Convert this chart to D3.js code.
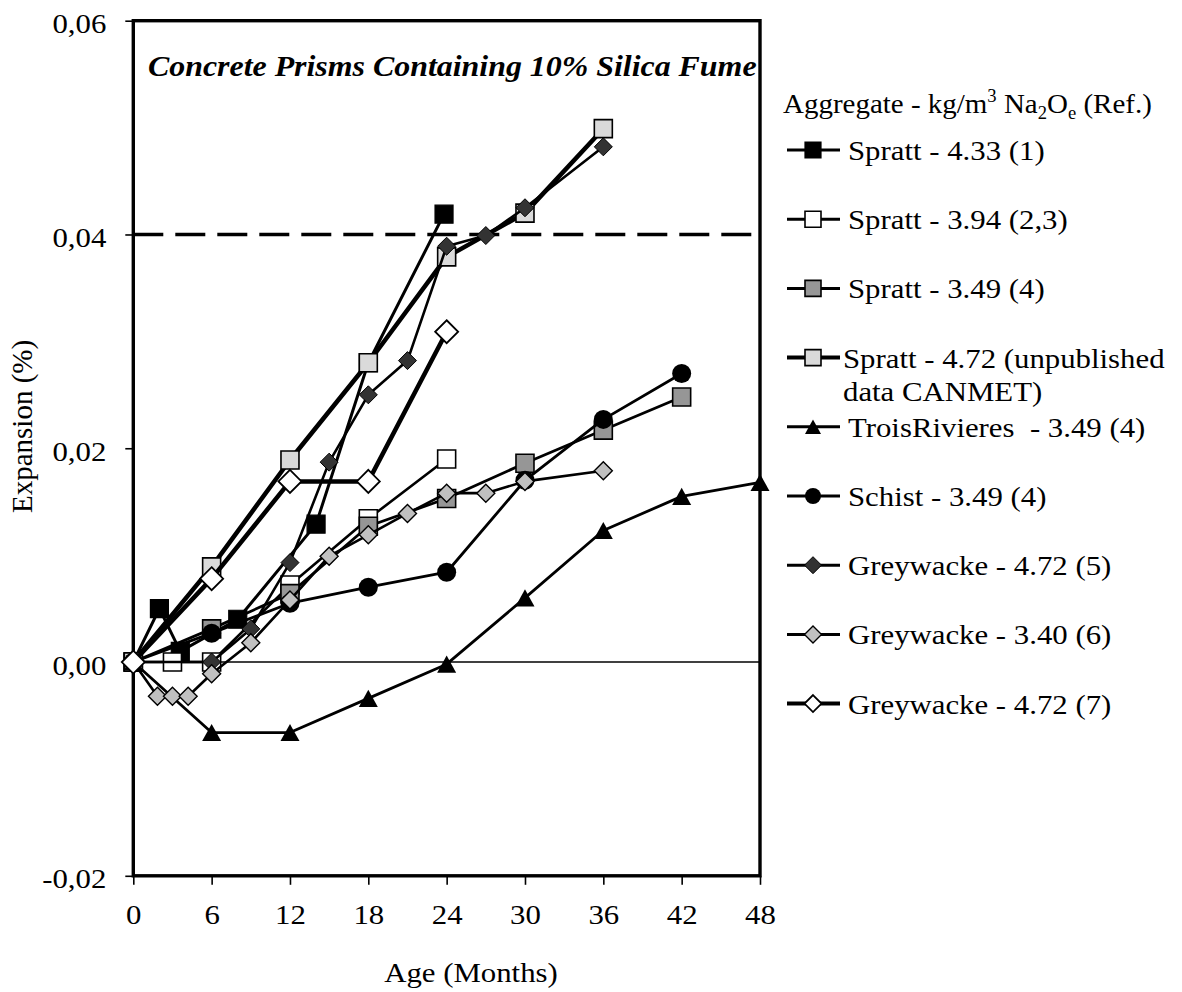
<!DOCTYPE html>
<html>
<head>
<meta charset="utf-8">
<script src="https://cdn.jsdelivr.net/npm/d3@7"></script>
<style>
  html, body { margin: 0; padding: 0; background: #fff; }
  svg { display: block; font-family: "Liberation Serif", "Times New Roman", serif; }
  text { white-space: pre; }
</style>
</head>
<body>
<svg id="chart" width="1182" height="992"></svg>
<script>
// ---------- data ----------
const xTicks = [0, 6, 12, 18, 24, 30, 36, 42, 48];
const xTickLabels = ["0", "6", "12", "18", "24", "30", "36", "42", "48"];
const yTicks = [-0.02, 0, 0.02, 0.04, 0.06];
const yTickLabels = ["-0,02", "0,00", "0,02", "0,04", "0,06"];
const limitValue = 0.04;

const seriesNames = [
  "Spratt - 4.33 (1)",
  "Spratt - 3.94 (2,3)",
  "Spratt - 3.49 (4)",
  "Spratt - 4.72 (unpublished|data CANMET)",
  "TroisRivieres  - 3.49 (4)",
  "Schist - 3.49 (4)",
  "Greywacke - 4.72 (5)",
  "Greywacke - 3.40 (6)",
  "Greywacke - 4.72 (7)"
];

const spratt433Months = [0, 2, 3.6, 8, 14, 18, 23.8];
const spratt433Values = [0, 0.005, 0.001, 0.004, 0.0129, 0.028, 0.0419];

const spratt394Months = [0, 3, 6, 12, 18, 24];
const spratt394Values = [0, 0, 0, 0.0072, 0.0134, 0.019];

const spratt349Months = [0, 6, 12, 18, 24, 30, 36, 42];
const spratt349Values = [0, 0.0031, 0.0064, 0.0127, 0.0153, 0.0186, 0.0217, 0.0248];

const spratt472Months = [0, 6, 12, 18, 24, 30, 36];
const spratt472Values = [0, 0.0089, 0.0189, 0.028, 0.0379, 0.042, 0.0499];

const troisMonths = [0, 6, 12, 18, 24, 30, 36, 42, 48];
const troisValues = [0, -0.0066, -0.0066, -0.0034, -0.0002, 0.006, 0.0123, 0.0155, 0.0168];

const schistMonths = [0, 6, 12, 18, 24, 30, 36, 42];
const schistValues = [0, 0.0027, 0.0055, 0.007, 0.0084, 0.017, 0.0227, 0.027];

const grey5Months = [0, 6, 9, 12, 15, 18, 21, 24, 27, 30, 36];
const grey5Values = [0, 0, 0.0031, 0.0093, 0.0187, 0.025, 0.0282, 0.0389, 0.0399, 0.0425, 0.0482];

const grey6Months = [0, 1.85, 3, 4.2, 6, 9, 12, 15, 18, 21, 24, 27, 30, 36];
const grey6Values = [0, -0.0032, -0.0032, -0.0032, -0.0011, 0.0018, 0.0058, 0.0099, 0.0119, 0.0139, 0.0158, 0.0158, 0.0169, 0.0179];

const grey7Months = [0, 6, 12, 18, 24];
const grey7Values = [0, 0.0078, 0.0169, 0.0169, 0.0309];

// ---------- styles ----------
const styles = [
  { shape: "square",   fill: "#000000", lw: 3,   size: 18, sw: 1.2 },
  { shape: "square",   fill: "#ffffff", lw: 2.6, size: 18, sw: 1.6 },
  { shape: "square",   fill: "#969696", lw: 2.8, size: 18, sw: 1.6 },
  { shape: "square",   fill: "#dadada", lw: 4.5, size: 18, sw: 1.6 },
  { shape: "triangle", fill: "#000000", lw: 2.8, size: 19, sw: 0 },
  { shape: "circle",   fill: "#000000", lw: 2.8, size: 19, sw: 0 },
  { shape: "diamond",  fill: "#333333", lw: 2.6, size: 18, sw: 1 },
  { shape: "diamond",  fill: "#c0c0c0", lw: 2.6, size: 18, sw: 1.4 },
  { shape: "diamond",  fill: "#ffffff", lw: 4.5, size: 23, sw: 1.8 }
];

const seriesMonths = [spratt433Months, spratt394Months, spratt349Months, spratt472Months,
  troisMonths, schistMonths, grey5Months, grey6Months, grey7Months];
const seriesValues = [spratt433Values, spratt394Values, spratt349Values, spratt472Values,
  troisValues, schistValues, grey5Values, grey6Values, grey7Values];

const series = seriesNames.map((name, i) => ({
  name,
  style: styles[i],
  points: seriesMonths[i].map((m, j) => ({ m, v: seriesValues[i][j] }))
}));

// ---------- layout ----------
const SX = 1.1; // horizontal glyph stretch of the original
const plotLeft = 133.3, plotRight = 760, plotTop = 20.7, plotBottom = 875.8;

const x = d3.scaleLinear().domain([0, 48]).range([plotLeft, plotRight]);
const y = d3.scaleLinear().domain([-0.02, 0.06]).range([plotBottom, plotTop]);

const svg = d3.select("#chart");

function stretchedText(g, tx, ty, anchor, size, weight, style, sx) {
  return g.append("text")
    .attr("transform", `translate(${tx},${ty}) scale(${sx || SX},1)`)
    .attr("text-anchor", anchor)
    .attr("font-size", size)
    .attr("font-weight", weight || "normal")
    .attr("font-style", style || "normal")
    .attr("fill", "#000");
}

function markerPath(shape, s) {
  const h = s / 2;
  if (shape === "square") return `M${-h},${-h}H${h}V${h}H${-h}Z`;
  if (shape === "diamond") return `M0,${-h}L${h},0L0,${h}L${-h},0Z`;
  if (shape === "triangle") { const th = s * 0.9; return `M0,${-th / 2}L${h},${th / 2}L${-h},${th / 2}Z`; }
  return null;
}

function drawMarker(g, st, cx, cy) {
  if (st.shape === "circle") {
    g.append("circle").attr("cx", cx).attr("cy", cy).attr("r", st.size / 2)
      .attr("fill", st.fill);
  } else {
    g.append("path").attr("d", markerPath(st.shape, st.size))
      .attr("transform", `translate(${cx},${cy})`)
      .attr("fill", st.fill)
      .attr("stroke", st.sw ? "#000" : "none")
      .attr("stroke-width", st.sw);
  }
}

// zero line
svg.append("line")
  .attr("x1", x(0)).attr("x2", x(48))
  .attr("y1", y(0)).attr("y2", y(0))
  .attr("stroke", "#000").attr("stroke-width", 1.6);

// limit dashed line
svg.append("line")
  .attr("x1", x(0)).attr("x2", x(48))
  .attr("y1", y(limitValue)).attr("y2", y(limitValue))
  .attr("stroke", "#000").attr("stroke-width", 3.6)
  .attr("stroke-dasharray", "30,12");

// axes
const yAxis = d3.axisLeft(y).tickValues(yTicks)
  .tickFormat((d, i) => yTickLabels[i]).tickSize(8).tickSizeOuter(0);
const gy = svg.append("g").attr("transform", `translate(${plotLeft},0)`).call(yAxis);
gy.select(".domain").remove();
gy.selectAll(".tick line").attr("stroke", "#000").attr("stroke-width", 1.6);
gy.selectAll(".tick text")
  .attr("x", null).attr("dy", null)
  .attr("transform", `translate(-27,12) scale(${SX},1)`)
  .attr("font-size", 28).attr("font-family", "Liberation Serif, Times New Roman, serif")
  .attr("fill", "#000");

const xAxis = d3.axisBottom(x).tickValues(xTicks)
  .tickFormat((d, i) => xTickLabels[i]).tickSize(9).tickSizeOuter(0);
const gx = svg.append("g").attr("transform", `translate(0,${plotBottom})`).call(xAxis);
gx.select(".domain").remove();
gx.selectAll(".tick line").attr("stroke", "#000").attr("stroke-width", 1.6);
gx.selectAll(".tick text")
  .attr("y", null).attr("dy", null)
  .attr("transform", `translate(0,48) scale(${SX},1)`)
  .attr("font-size", 28).attr("font-family", "Liberation Serif, Times New Roman, serif")
  .attr("fill", "#000");

// frame
svg.append("rect")
  .attr("x", plotLeft).attr("y", plotTop)
  .attr("width", plotRight - plotLeft).attr("height", plotBottom - plotTop)
  .attr("fill", "none").attr("stroke", "#000").attr("stroke-width", 3.4);

// series lines
const line = d3.line().x(d => x(d.m)).y(d => y(d.v));
const gSeries = svg.append("g");
series.forEach(s => {
  const g = gSeries.append("g");
  g.append("path").datum(s.points)
    .attr("d", line)
    .attr("fill", "none")
    .attr("stroke", "#000")
    .attr("stroke-width", s.style.lw)
    .attr("stroke-linejoin", "round");
  s.points.forEach(p => drawMarker(g, s.style, x(p.m), y(p.v)));
});

// title
stretchedText(svg, 148, 76, "start", 29, "bold", "italic")
  .text("Concrete Prisms Containing 10% Silica Fume");

// axis titles
stretchedText(svg, 471, 982, "middle", 28).text("Age (Months)");
svg.append("text")
  .attr("transform", "translate(32,513) rotate(-90)")
  .attr("text-anchor", "start")
  .attr("font-size", 29)
  .attr("fill", "#000")
  .text("Expansion (%)");

// legend
const lg = svg.append("g");
const hdr = stretchedText(lg, 783, 113, "start", 28, null, null, 1.035);
hdr.append("tspan").text("Aggregate - kg/m");
hdr.append("tspan").attr("font-size", 18).attr("dy", -11).text("3");
hdr.append("tspan").attr("dy", 11).text(" Na");
hdr.append("tspan").attr("font-size", 18).attr("dy", 6).text("2");
hdr.append("tspan").attr("dy", -6).text("O");
hdr.append("tspan").attr("font-size", 18).attr("dy", 6).text("e");
hdr.append("tspan").attr("dy", -6).text(" (Ref.)");

const legendTop = 150, legendStep = 69.2;
series.forEach((s, i) => {
  const cy = legendTop + i * legendStep;
  lg.append("line").attr("x1", 787).attr("x2", 840).attr("y1", cy).attr("y2", cy)
    .attr("stroke", "#000").attr("stroke-width", Math.max(3, Math.min(4, s.style.lw)));
  const st = Object.assign({}, s.style, { size: s.style.shape === "diamond" ? 17 : 16 });
  drawMarker(lg, st, 813, cy);
  const parts = s.name.split("|");
  const tx = parts.length > 1 ? 843 : 848;
  parts.forEach((p, k) => {
    stretchedText(lg, tx, cy + 10 + k * 33, "start", 28).text(p);
  });
});
</script>
</body>
</html>
